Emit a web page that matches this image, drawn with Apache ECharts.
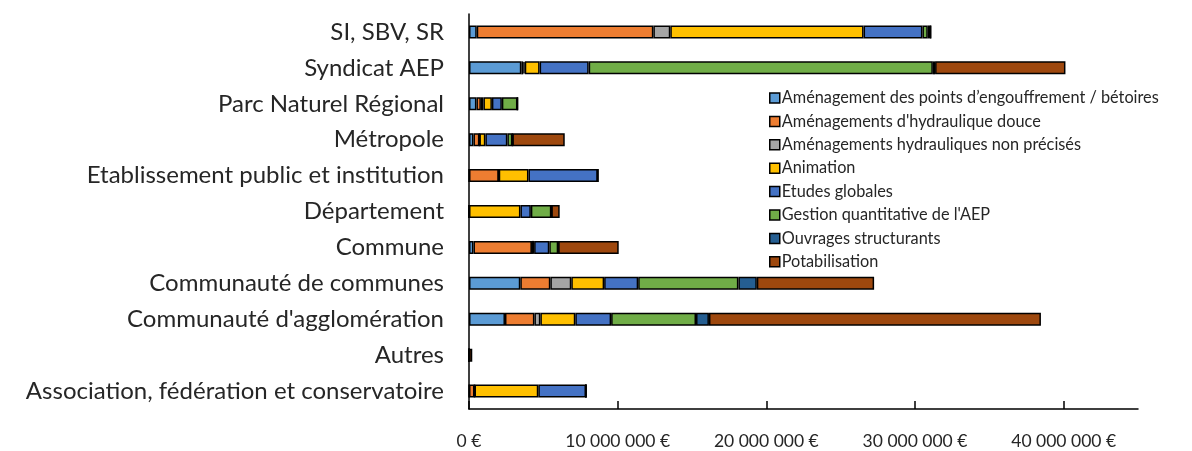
<!DOCTYPE html>
<html><head><meta charset="utf-8">
<script src="https://cdn.jsdelivr.net/npm/echarts@6/dist/echarts.min.js"></script>
<style>html,body{margin:0;padding:0;background:#fff}#c{width:1192px;height:451px}</style>
</head><body><div id="c"></div>
<script>
const categories = ["SI, SBV, SR","Syndicat AEP","Parc Naturel Régional","Métropole","Etablissement public et institution","Département","Commune","Communauté de communes","Communauté d'agglomération","Autres","Association, fédération et conservatoire"];
const seriesNames = ["Aménagement des points d\u2019engouffrement / bétoires","Aménagements d'hydraulique douce","Aménagements hydrauliques non précisés","Animation","Etudes globales","Gestion quantitative de l'AEP","Ouvrages structurants","Potabilisation"];
// values in euros, one per category (top-down)
const pointsEngouffrement = [520000,3520000,500000,300000,0,0,300000,3450000,2420000,0,0];
const hydrauliqueDouce    = [11880000,130000,300000,400000,2000000,0,3930000,2020000,1980000,0,370000];
const hydrauNonPrecises   = [1140000,100000,170000,0,0,0,0,1410000,400000,0,0];
const animation           = [13000000,1000000,570000,400000,2000000,3460000,150000,2210000,2350000,0,4290000];
const etudesGlobales      = [3960000,3300000,670000,1480000,4660000,700000,1020000,2290000,2410000,0,3210000];
const gestionAEP          = [360000,23150000,1050000,340000,0,1380000,600000,6740000,5710000,0,0];
const ouvrages            = [200000,150000,0,0,0,0,0,1240000,870000,0,0];
const potabilisation      = [0,8770000,0,3520000,0,560000,4070000,7890000,22330000,220000,0];
const xTicks = [0,10000000,20000000,30000000,40000000];
const colors = ["#5B9BD5","#ED7D31","#A5A5A5","#FFC000","#4472C4","#70AD47","#255E91","#9E480E"];
const allSeries = [pointsEngouffrement,hydrauliqueDouce,hydrauNonPrecises,animation,etudesGlobales,gestionAEP,ouvrages,potabilisation];

function fmt(v){ return String(Math.round(v)).replace(/\B(?=(\d{3})+(?!\d))/g,' ') + ' \u20AC'; }

const chart = echarts.init(document.getElementById('c'));
chart.setOption({
  animation:false,
  color: colors,
  grid:{left:469,right:54,top:14,bottom:42,containLabel:false},
  legend:{
    orient:'vertical', left:764, top:85, itemWidth:10, itemHeight:10, itemGap:7.4,
    icon:'rect',
    itemStyle:{borderColor:'#000',borderWidth:1.5},
    textStyle:{fontFamily:'Lato',fontSize:16.3,color:'#262626',lineHeight:15, padding:[0,0,0,-3]},
    data: seriesNames
  },
  xAxis:{
    type:'value', min:0, max:45000000, interval:10000000,
    splitLine:{show:false},
    axisLine:{show:true,lineStyle:{color:'#000',width:1.5}},
    axisTick:{show:true,inside:true,length:8,lineStyle:{color:'#000',width:1.5},customValues:xTicks},
    axisLabel:{fontFamily:'Lato',fontSize:17.5,color:'#262626',margin:23,formatter:fmt,customValues:xTicks}
  },
  yAxis:{
    type:'category', inverse:true, data:categories,
    axisLine:{show:true,lineStyle:{color:'#000',width:1.5}},
    axisTick:{show:false},
    axisLabel:{fontFamily:'Lato',fontSize:24,color:'#262626',margin:25}
  },
  series: allSeries.map((d,i)=>({
    name: seriesNames[i], type:'bar', stack:'total', data:d,
    barWidth:13,
    itemStyle:{color:colors[i],borderColor:'#000',borderWidth:1.5}
  }))
});
</script></body></html>
